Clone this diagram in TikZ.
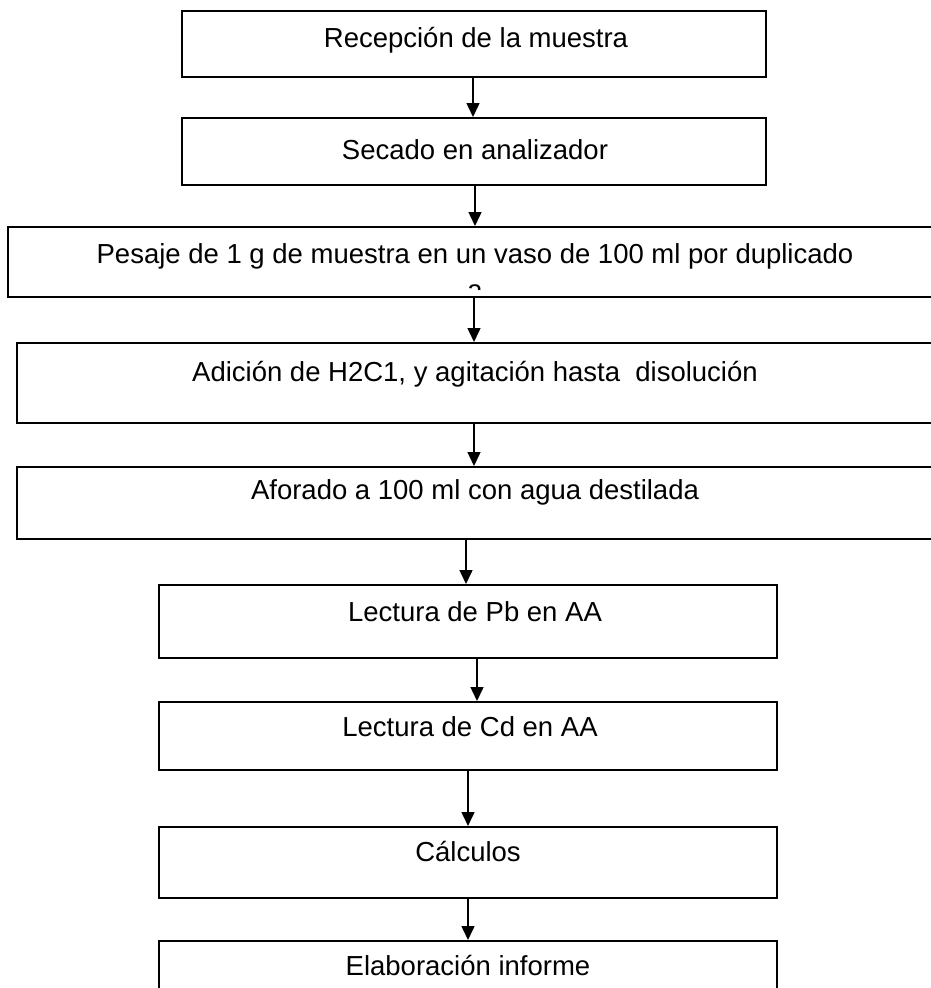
\documentclass[tikz,border=0pt]{standalone}
\usepackage{fontspec}
\setmainfont{Liberation Sans}
\usetikzlibrary{arrows.meta}
\begin{document}
\begin{tikzpicture}[x=1pt,y=-1pt,
  box/.style={draw=black, line width=2pt, inner sep=0pt, fill=white},
  lbl/.style={anchor=base, inner sep=0pt, font=\fontsize{27.5}{33}\selectfont},
  arr/.style={line width=1.5pt, -{Triangle[width=13pt,length=14pt]}, shorten >=0pt}]
\useasboundingbox (0,0) rectangle (931,988);
\clip (0,0) rectangle (931,988);
% process boxes (corners in px, y downward)
\node[box, minimum width=584pt, minimum height=66pt] (b1) at (474,44) {};
\node[box, minimum width=584pt, minimum height=67pt] (b2) at (474,151.5) {};
\node[box, minimum width=960pt, minimum height=70pt] (b3) at (488,262) {};
\node[box, minimum width=960pt, minimum height=80pt] (b4) at (497,383) {};
\node[box, minimum width=960pt, minimum height=72pt] (b5) at (497,503) {};
\node[box, minimum width=618pt, minimum height=73pt] (b6) at (468,621.5) {};
\node[box, minimum width=618pt, minimum height=68pt] (b7) at (468,736) {};
\node[box, minimum width=618pt, minimum height=71pt] (b8) at (468,862.5) {};
\node[box, minimum width=618pt, minimum height=80pt] (b9) at (468,981) {};
% labels
\node[lbl] (t1) at (476,47) {Recepción de la muestra};
\node[lbl] (t2) at (475,159) {Secado en analizador};
\node[lbl] (t3) at (475,263) {Pesaje de 1 g de muestra en un vaso de 100 ml por duplicado};
\begin{scope}
  \clip (10,229) rectangle (931,289);
  \node[lbl] (t3b) at (475,299) {a};
\end{scope}
\node[lbl] (t4) at (475,381) {Adición de H2C1, y agitación hasta\ \ disolución};
\node[lbl] (t5) at (475,499) {Aforado a 100 ml con agua destilada};
\node[lbl] (t6) at (475,621) {Lectura de Pb en AA};
\node[lbl] (t7) at (470,736) {Lectura de Cd en AA};
\node[lbl] (t8) at (468,861) {Cálculos};
\node[lbl] (t9) at (468,975) {Elaboración informe};
% connectors
\draw[arr] (b1.south -| 473,0) -- (b2.north -| 473,0);
\draw[arr] (b2.south -| 475,0) -- (b3.north -| 475,0);
\draw[arr] (b3.south -| 474,0) -- (b4.north -| 474,0);
\draw[arr] (b4.south -| 474,0) -- (b5.north -| 474,0);
\draw[arr] (b5.south -| 466,0) -- (b6.north -| 466,0);
\draw[arr] (b6.south -| 477,0) -- (b7.north -| 477,0);
\draw[arr] (b7.south -| 468,0) -- (b8.north -| 468,0);
\draw[arr] (b8.south -| 468,0) -- (b9.north -| 468,0);
\end{tikzpicture}
\end{document}
